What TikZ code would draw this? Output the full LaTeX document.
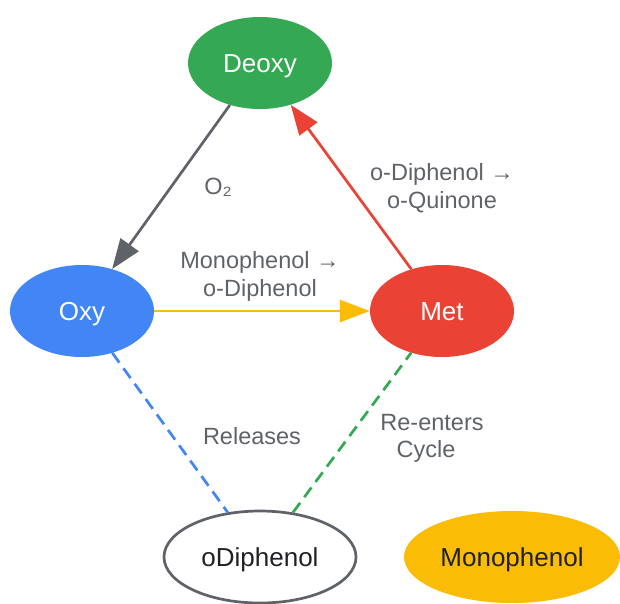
\documentclass[tikz,border=0pt]{standalone}
\usepackage{fontspec}
\setmainfont{Liberation Sans}
\usetikzlibrary{shapes.geometric,arrows.meta}
\definecolor{gGreen}{HTML}{34A853}
\definecolor{gBlue}{HTML}{4285F4}
\definecolor{gRed}{HTML}{EA4335}
\definecolor{gYellow}{HTML}{FBBC05}
\definecolor{gGray}{HTML}{5F6368}
\definecolor{gInk}{HTML}{202124}
\begin{document}
\begin{tikzpicture}[x=1pt, y=-1pt,
    state/.style={ellipse, inner sep=0pt, minimum width=144pt, minimum height=92pt, text height=18.6pt, text depth=0pt, font=\fontsize{26}{30}\selectfont},
    lbl/.style={align=center, text=gGray, font=\fontsize{23.5}{28}\selectfont},
    flow/.style={line width=2.7pt, -{Triangle[length=30pt, width=22pt]}},
    link/.style={line width=2.7pt, dash pattern=on 12pt off 7pt}]
                \useasboundingbox (0,0) rectangle (620,603);
                % States of the cycle
                \node[state, fill=gGreen, text=white] (deoxy) at (260,63) {Deoxy};
                \node[state, fill=gBlue, text=white] (oxy) at (82,311) {Oxy};
                \node[state, fill=gRed, text=white] (met) at (442,311) {Met};
                \node[state, draw=gGray, line width=2.7pt, text=gInk, minimum width=192pt] (odiphenol) at (260,557) {oDiphenol};
                \node[state, fill=gYellow, text=gInk, minimum width=216pt] (monophenol) at (512,557) {Monophenol};
                % Reactions
                \draw[flow, gGray] (deoxy) -- (oxy);
                \draw[flow, gYellow] (oxy) -- (met);
                \draw[flow, gRed] (met) -- (deoxy);
                \draw[link, gBlue] (oxy) -- (odiphenol);
                \draw[link, gGreen] (odiphenol) -- (met);
                % Labels
                \node[lbl] (o2) at (218,187) {O₂};
                \node[lbl] (mono2di) at (260,276) {Monophenol →\\ o-Diphenol};
                \node[lbl] (di2quin) at (442,188) {o-Diphenol →\\ o-Quinone};
                \node[lbl] (releases) at (252,436) {Releases};
                \node[lbl] (reenters) at (432,438) {Re-enters\\[-1pt]\hspace*{-12pt}Cycle};
\end{tikzpicture}
\end{document}
